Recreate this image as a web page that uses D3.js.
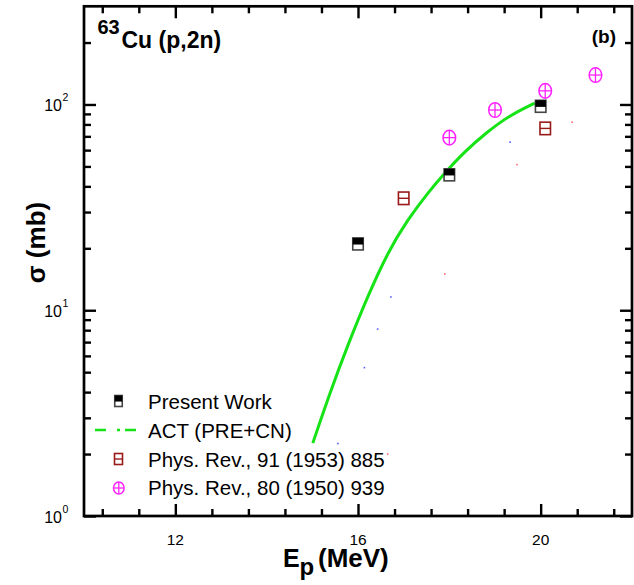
<!DOCTYPE html>
<html><head><meta charset="utf-8">
<script src="https://cdn.jsdelivr.net/npm/d3@7"></script>
<style>
body{margin:0;background:#fff}
svg{display:block}
text{font-family:"Liberation Sans",Arial,Helvetica,sans-serif;fill:#000}
</style>
</head><body>
<svg id="chart" width="634" height="585"></svg>
<script>
// ---- data ----
const presentE = [16, 18, 20];
const presentSigma = [21, 45.5, 98];
const actE = [15.01, 15.39, 15.78, 16.19, 16.66, 17.07, 17.54, 17.94, 18.30, 18.82, 19.33, 19.87];
const actSigma = [2.26, 4.0, 6.8, 11.4, 19.3, 27.2, 37.5, 47.5, 58.0, 73.4, 88.8, 101.6];
const pr91E = [17, 20.1];
const pr91Sigma = [35, 76.5];
const pr80E = [18, 19, 20.1, 21.2];
const pr80Sigma = [69, 94, 116.5, 139];
const faintBlueE = [15.56, 16.14, 16.43, 16.72, 19.33];
const faintBlueSigma = [2.25, 5.26, 8.1, 11.6, 65.6];
const faintRedE = [16.65, 17.9, 19.48, 20.69];
const faintRedSigma = [2.0, 15, 51, 82];
const xMajor = [12, 16, 20];
const xMinor = [10.4, 11.2, 12.8, 13.6, 14.4, 15.2, 16.8, 17.6, 18.4, 19.2, 20.8, 21.6];
const yMajor = [1, 10, 100];
const yMinor = [2, 3, 4, 5, 6, 7, 8, 9, 20, 30, 40, 50, 60, 70, 80, 90, 200];
const yTickExp = ["0", "1", "2"];
const legendLabels = ["Present Work", "ACT (PRE+CN)", "Phys. Rev., 91 (1953) 885", "Phys. Rev., 80 (1950) 939"];

// ---- setup ----
const svg = d3.select("#chart");
const L = 84, R = 632, T = 6.3, B = 516;
const x = d3.scaleLinear().domain([10, 22]).range([L, R]);
const y = d3.scaleLog().domain([1, 300]).range([B, T]);

const MAJ = 12, MIN = 7;

function axisGroup(axis, tx, ty) {
  const g = svg.append("g").attr("transform", `translate(${tx},${ty})`).call(axis);
  g.select(".domain").remove();
  g.selectAll(".tick line").attr("stroke", "#000").attr("stroke-width", 2.4);
  g.selectAll(".tick text").remove();
  return g;
}
// x ticks (inward) bottom and top
axisGroup(d3.axisBottom(x).tickValues(xMajor).tickSize(-MAJ).tickFormat(""), 0, B);
axisGroup(d3.axisBottom(x).tickValues(xMinor).tickSize(-MIN).tickFormat(""), 0, B);
axisGroup(d3.axisTop(x).tickValues(xMajor).tickSize(-MAJ).tickFormat(""), 0, T);
axisGroup(d3.axisTop(x).tickValues(xMinor).tickSize(-MIN).tickFormat(""), 0, T);
// y ticks (inward) left and right
axisGroup(d3.axisLeft(y).tickValues(yMajor).tickSize(-MAJ).tickFormat(""), L, 0);
axisGroup(d3.axisLeft(y).tickValues(yMinor).tickSize(-MIN).tickFormat(""), L, 0);
axisGroup(d3.axisRight(y).tickValues(yMajor).tickSize(-MAJ).tickFormat(""), R, 0);
axisGroup(d3.axisRight(y).tickValues(yMinor).tickSize(-MIN).tickFormat(""), R, 0);

// frame
svg.append("rect").attr("x", L).attr("y", T).attr("width", R - L).attr("height", B - T)
  .attr("fill", "none").attr("stroke", "#000").attr("stroke-width", 2.7);

// x tick labels
svg.selectAll(".xl").data(xMajor).enter().append("text")
  .attr("x", d => x(d)).attr("y", 544.5).attr("text-anchor", "middle")
  .attr("font-size", 15.5).text(d => d);

// y tick labels 10^n
yMajor.forEach((v, i) => {
  svg.append("text").attr("x", 62).attr("y", y(v) + 7)
    .attr("text-anchor", "end").attr("font-size", 16).text("10");
  svg.append("text").attr("x", 62.5).attr("y", y(v) - 3.5)
    .attr("font-size", 10.5).text(yTickExp[i]);
});

// ---- marks ----
const green = "#16e316";
const line = d3.line().x(d => x(d[0])).y(d => y(d[1])).curve(d3.curveBasis);
svg.append("path").datum(actE.map((e, i) => [e, actSigma[i]]))
  .attr("d", line).attr("fill", "none").attr("stroke", green).attr("stroke-width", 3);

// faint dots
svg.selectAll(".fb").data(faintBlueE.map((e, i) => [e, faintBlueSigma[i]])).enter()
  .append("rect").attr("x", d => x(d[0]) - 0.8).attr("y", d => y(d[1]) - 0.8)
  .attr("width", 1.6).attr("height", 1.6).attr("fill", "#5a5aff");
svg.selectAll(".fr").data(faintRedE.map((e, i) => [e, faintRedSigma[i]])).enter()
  .append("rect").attr("x", d => x(d[0]) - 0.8).attr("y", d => y(d[1]) - 0.8)
  .attr("width", 1.6).attr("height", 1.6).attr("fill", "#ff6a6a");

const darkRed = "#9a1a1a", magenta = "#ff22ff";

function presentMarker(g, cx, cy, w, h) {
  g.append("rect").attr("x", cx - w / 2).attr("y", cy - h / 2).attr("width", w).attr("height", h)
    .attr("fill", "#fff").attr("stroke", "#444").attr("stroke-width", 1.6);
  g.append("rect").attr("x", cx - w / 2).attr("y", cy - h / 2).attr("width", w).attr("height", h * 0.55)
    .attr("fill", "#000");
}
function pr91Marker(g, cx, cy, w, h) {
  g.append("rect").attr("x", cx - w / 2).attr("y", cy - h / 2).attr("width", w).attr("height", h)
    .attr("fill", "none").attr("stroke", darkRed).attr("stroke-width", 1.6);
  g.append("line").attr("x1", cx - w / 2).attr("x2", cx + w / 2).attr("y1", cy).attr("y2", cy)
    .attr("stroke", darkRed).attr("stroke-width", 1.4);
}
function pr80Marker(g, cx, cy, rx, ry) {
  g.append("ellipse").attr("cx", cx).attr("cy", cy).attr("rx", rx).attr("ry", ry)
    .attr("fill", "none").attr("stroke", magenta).attr("stroke-width", 1.5);
  g.append("line").attr("x1", cx - rx).attr("x2", cx + rx).attr("y1", cy).attr("y2", cy)
    .attr("stroke", magenta).attr("stroke-width", 1.3);
  g.append("line").attr("x1", cx).attr("x2", cx).attr("y1", cy - ry).attr("y2", cy + ry)
    .attr("stroke", magenta).attr("stroke-width", 1.3);
}

const gm = svg.append("g");
pr80E.forEach((e, i) => pr80Marker(gm, x(e), y(pr80Sigma[i]), 6.3, 7.3));
pr91E.forEach((e, i) => pr91Marker(gm, x(e), y(pr91Sigma[i]), 10.5, 12.5));
presentE.forEach((e, i) => presentMarker(gm, x(e), y(presentSigma[i]), 10.5, 12));

// ---- legend ----
const legBase = [409, 438, 466.5, 495];
const lg = svg.append("g");
legendLabels.forEach((t, i) => {
  lg.append("text").attr("x", 148).attr("y", legBase[i]).attr("font-size", 20.5).text(t);
});
presentMarker(lg, 118.5, 401, 7.5, 11);
lg.append("line").attr("x1", 95).attr("x2", 137).attr("y1", 430).attr("y2", 430)
  .attr("stroke", green).attr("stroke-width", 2.6).attr("stroke-dasharray", "11,11,3,5");
pr91Marker(lg, 118.5, 459, 8, 11);
pr80Marker(lg, 118.8, 488, 5.3, 6);

// ---- titles ----
svg.append("text").attr("x", 97.5).attr("y", 34).attr("font-size", 20).attr("font-weight", "bold").text("63");
svg.append("text").attr("x", 121.5).attr("y", 47.5).attr("font-size", 23).attr("font-weight", "bold").text("Cu (p,2n)");
svg.append("text").attr("x", 616).attr("y", 43).attr("text-anchor", "end").attr("font-size", 19).attr("font-weight", "bold").text("(b)");

// axis titles
svg.append("text").attr("x", 283).attr("y", 567.3).attr("font-size", 25).attr("font-weight", "bold").text("E");
svg.append("text").attr("x", 299.5).attr("y", 575).attr("font-size", 24).attr("font-weight", "bold").text("p");
svg.append("text").attr("x", 318).attr("y", 567).attr("font-size", 26).attr("font-weight", "bold").text("(MeV)");

svg.append("text").attr("transform", "translate(45,242.5) rotate(-90)")
  .attr("text-anchor", "middle").attr("font-size", 26).attr("font-weight", "bold").text("σ (mb)");
</script>
</body></html>
